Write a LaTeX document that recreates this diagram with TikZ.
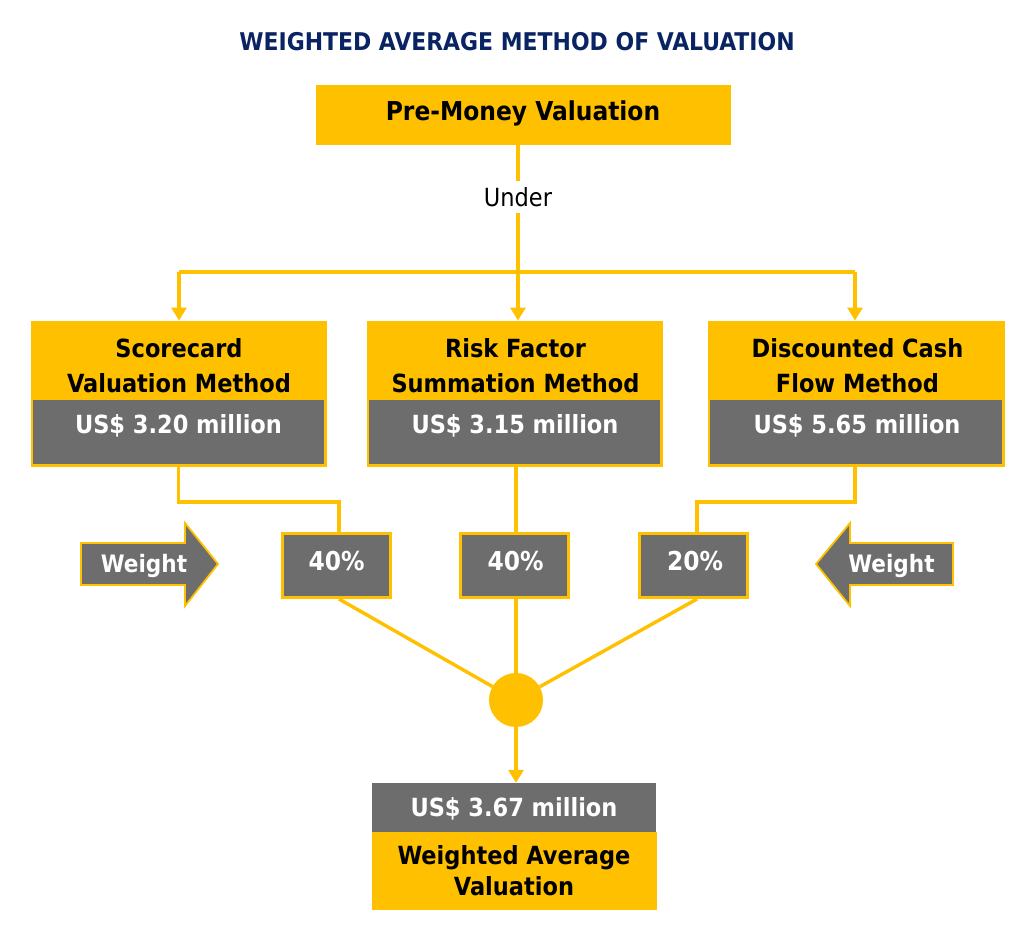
\documentclass[tikz,border=0pt]{standalone}
\usepackage{fontspec}
\setmainfont{DejaVu Sans Condensed}
\usetikzlibrary{arrows.meta,calc}
\definecolor{yel}{HTML}{FFC000}
\definecolor{gry}{HTML}{6D6D6D}
\definecolor{navy}{HTML}{0A2463}
\begin{document}
\begin{tikzpicture}[x=1pt,y=-1pt,
  conn/.style={draw=yel,line width=3.4pt},
  arr/.style={conn,-{Triangle[width=15pt,length=13pt]}},
  ybox/.style={fill=yel,draw=yel,line width=1pt,inner sep=0pt},
  gfill/.style={fill=gry,inner sep=0pt},
  pbox/.style={fill=gry,draw=yel,line width=3pt,inner sep=0pt,minimum width=108pt,minimum height=64pt},
  warr/.style={fill=gry,draw=yel,line width=1.8pt,line join=miter},
  btxt/.style={font=\fontsize{25}{35}\selectfont\bfseries,align=center,inner sep=0pt},
  wtxt/.style={btxt,text=white},
  ptxt/.style={wtxt,font=\fontsize{26}{30}\selectfont\bfseries},
]
\useasboundingbox (0,0) rectangle (1024,924);

% title
\node[btxt,text=navy,font=\fontsize{24.4}{28}\selectfont\bfseries] (title) at (517,42) {WEIGHTED AVERAGE METHOD OF VALUATION};

% pre-money
\node[ybox,minimum width=414pt,minimum height=59pt] (pre) at (523,114.5) {};
\node[btxt,font=\fontsize{26}{30}\selectfont\bfseries] (pretxt) at (523,113) {Pre-Money Valuation};

\node[font=\fontsize{25}{30}\selectfont,inner sep=6pt] (under) at (518,197) {Under};
\draw[conn] (under |- pre.south) -- (under.north);

\coordinate (jc) at (518,272);
\coordinate (jl) at (179,272);
\coordinate (jr) at (855,272);
\draw[conn] (under.south) -- (jc);
\draw[conn] (jl) -- (jr);

% method boxes
\node[ybox,minimum width=295pt,minimum height=145pt] (m1) at (178.5,393.5) {};
\node[gfill,minimum width=291pt,minimum height=64pt] (v1) at (178.5,432) {};
\node[btxt] (t1) at (179,365.5) {Scorecard\\Valuation Method};
\node[wtxt] (u1) at (178.5,426) {US\$ 3.20 million};

\node[ybox,minimum width=295pt,minimum height=145pt] (m2) at (514.5,393.5) {};
\node[gfill,minimum width=291pt,minimum height=64pt] (v2) at (514.5,432) {};
\node[btxt] (t2) at (515.5,365.5) {Risk Factor\\Summation Method};
\node[wtxt] (u2) at (515,426) {US\$ 3.15 million};

\node[ybox,minimum width=296pt,minimum height=145pt] (m3) at (856,393.5) {};
\node[gfill,minimum width=292pt,minimum height=64pt] (v3) at (856,432) {};
\node[btxt] (t3) at (857.5,365.5) {Discounted Cash\\Flow Method};
\node[wtxt] (u3) at (857,426) {US\$ 5.65 million};

\draw[arr] (jl) -- (jl |- m1.north);
\draw[arr] (jc) -- (jc |- m2.north);
\draw[arr] (jr) -- (jr |- m3.north);

% percentage boxes
\node[pbox] (p1) at (336.5,565.5) {};
\node[ptxt] (p1t) at (336.5,561) {40\%};
\node[pbox] (p2) at (514.5,565.5) {};
\node[ptxt] (p2t) at (515.5,561) {40\%};
\node[pbox] (p3) at (693.5,565.5) {};
\node[ptxt] (p3t) at (695,561) {20\%};

\coordinate (k1) at (339,502);
\coordinate (k2) at (516,502);
\coordinate (k3) at (697,502);
\draw[conn] (m1.south) |- (k1) -- (k1 |- p1.north);
\draw[conn] (k2 |- m2.south) -- (k2 |- p2.north);
\draw[conn] (m3.south -| 855,0) |- (k3) -- (k3 |- p3.north);

% weight arrows
\draw[warr] (81,543) -- (185,543) -- (185,523) -- (218,564) -- (185,606) -- (185,585) -- (81,585) -- cycle;
\node[wtxt,font=\fontsize{24}{28}\selectfont\bfseries] (w1) at (144,566) {Weight};
\draw[warr] (953,543) -- (850,543) -- (850,523) -- (816,564) -- (850,606) -- (850,585) -- (953,585) -- cycle;
\node[wtxt,font=\fontsize{24}{28}\selectfont\bfseries] (w2) at (891.5,566) {Weight};

% circle
\node[circle,fill=yel,minimum size=54pt,inner sep=0pt] (c) at (516,700) {};
\draw[conn] (k1 |- p1.south) -- (c);
\draw[conn] (k2 |- p2.south) -- (c);
\draw[conn] (k3 |- p3.south) -- (c);

% result box
\node[gfill,minimum width=284pt,minimum height=49pt] (wv) at (514,807.5) {};
\node[ybox,minimum width=284pt,minimum height=77pt] (wa) at (514,870.5) {};
\node[wtxt] (wvt) at (514,809) {US\$ 3.67 million};
\node[btxt,font=\fontsize{25}{31}\selectfont\bfseries] (wat) at (514,871) {Weighted Average\\Valuation};
\draw[arr] (c) -- (c |- wv.north);
\end{tikzpicture}
\end{document}
